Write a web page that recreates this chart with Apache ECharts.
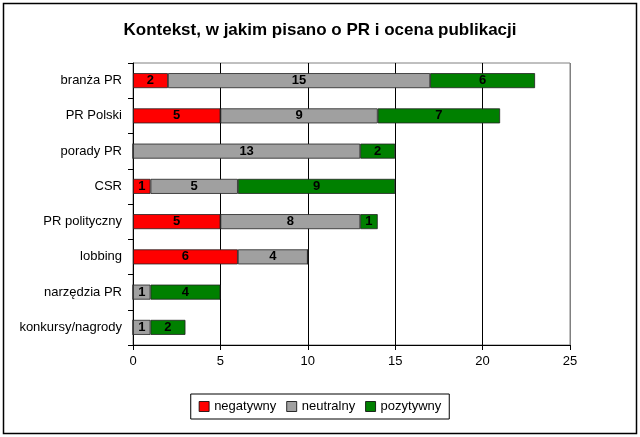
<!DOCTYPE html>
<html><head><meta charset="utf-8">
<script src="https://cdn.jsdelivr.net/npm/echarts@6/dist/echarts.min.js"></script>
<style>html,body{margin:0;padding:0;background:#fff}#c{width:640px;height:437px}</style>
</head><body><div id="c"></div>
<script>
const categories = ['branża PR','PR Polski','porady PR','CSR','PR polityczny','lobbing','narzędzia PR','konkursy/nagrody'];
const negatywny = [2,5,0,1,5,6,0,0];
const neutralny = [15,9,13,5,8,4,1,1];
const pozytywny = [6,7,2,9,1,0,4,2];
const xTicks = [0,5,10,15,20,25];

const chart = echarts.init(document.getElementById('c'), null, {renderer:'canvas'});
const F = 'Arial, "Liberation Sans", sans-serif';
function ser(name, data, color){
  return {
    name, type:'bar', stack:'a', data, barWidth:15,
    itemStyle:{color, borderColor:'#222', borderWidth:0.8},
    label:{show:true, position:'inside', color:'#000', fontWeight:'bold', fontSize:13, fontFamily:F,
      formatter:p=>p.value===0?'':String(p.value)},
    emphasis:{disabled:true}
  };
}
chart.setOption({
  animation:false,
  title:{text:'Kontekst, w jakim pisano o PR i ocena publikacji', left:'center', top:17,
    textStyle:{fontFamily:F, fontSize:17, fontWeight:'bold', color:'#000'}},
  grid:{left:133, right:70, top:63, bottom:92, show:true, borderColor:'#808080', borderWidth:1, backgroundColor:'#fff'},
  legend:{bottom:18, left:'center', itemWidth:10, itemHeight:10, itemGap:10, icon:'rect',
    borderColor:'#000', borderWidth:1, padding:[6,8,6,8],
    textStyle:{fontFamily:F, fontSize:13, color:'#000'},
    itemStyle:{borderColor:'#000', borderWidth:0.8},
    data:['negatywny','neutralny','pozytywny'], selectedMode:false},
  xAxis:{type:'value', min:xTicks[0], max:xTicks[xTicks.length-1], interval:5,
    axisLine:{show:true, lineStyle:{color:'#000'}},
    axisTick:{show:true, length:5, lineStyle:{color:'#000'}},
    axisLabel:{fontFamily:F, fontSize:13, color:'#000', margin:10},
    splitLine:{show:true, lineStyle:{color:['#000','#000','#000','#000','#000','#808080'], width:1}}},
  yAxis:{type:'category', data:categories, inverse:true,
    axisLine:{show:true, lineStyle:{color:'#000'}},
    axisTick:{show:true, length:5, lineStyle:{color:'#000'}},
    axisLabel:{fontFamily:F, fontSize:13, color:'#000', margin:11}},
  series:[ser('negatywny',negatywny,'#ff0000'), ser('neutralny',neutralny,'#a0a0a0'), ser('pozytywny',pozytywny,'#008000')],
  graphic:[{type:'rect', shape:{x:3.5,y:3.5,width:633,height:430}, style:{fill:null, stroke:'#000', lineWidth:1.5}, silent:true}]
});
</script></body></html>
